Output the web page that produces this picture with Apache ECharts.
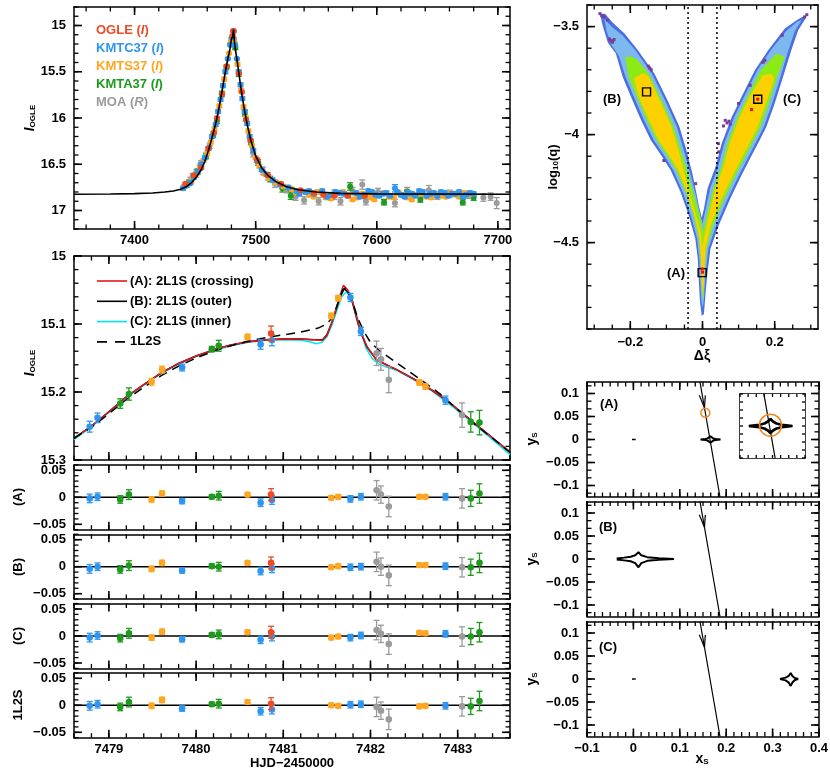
<!DOCTYPE html>
<html>
<head>
<meta charset="utf-8">
<script src="https://cdn.jsdelivr.net/npm/echarts@6/dist/echarts.min.js"></script>
<style>
html, body { margin: 0; padding: 0; background: #fff; }
#chart { width: 830px; height: 772px; }
</style>
</head>
<body>
<div id="chart"></div>
<script>
// datasets
const dsNames = ['MOA', 'KMTA', 'KMTS', 'KMTC', 'OGLE'];
const dsColors = { OGLE: '#EE4B24', KMTC: '#2F96F0', KMTS: '#FFA620', KMTA: '#1E9A1E', MOA: '#9B9B9B' };

// top panel: [HJD, I, err]
const topOGLE = [[7442,16.71,0.01],[7449,16.62,0.01],[7455,16.54,0.01],[7461,16.33,0.01],[7465.5,16.16,0.01],[7468,16.0,0.01],[7472.3,15.74,0.01],[7476,15.44,0.01],[7480.9,15.11,0.01],[7481.6,15.06,0.01],[7486.2,15.52,0.01],[7488.6,15.72,0.01],[7492,16.02,0.01],[7495.7,16.24,0.01],[7501.3,16.45,0.01],[7510,16.62,0.01],[7521,16.71,0.01],[7537,16.78,0.01],[7548,16.81,0.01],[7556,16.83,0.01],[7565,16.84,0.01],[7576,16.84,0.01],[7590,16.84,0.01]];
const topKMTC = [[7440,16.76,0.02],[7443,16.73,0.02],[7446,16.70,0.02],[7449,16.64,0.02],[7452,16.58,0.02],[7455,16.50,0.02],[7458,16.43,0.02],[7461,16.33,0.02],[7464,16.20,0.02],[7467,16.07,0.02],[7469,15.93,0.02],[7471,15.80,0.02],[7473,15.65,0.02],[7475,15.50,0.02],[7477,15.36,0.01],[7479,15.21,0.01],[7480.7,15.13,0.01],[7481.8,15.06,0.01],[7482.9,15.21,0.01],[7484.5,15.36,0.01],[7486,15.50,0.02],[7487.5,15.64,0.02],[7489,15.79,0.02],[7491,15.93,0.02],[7493,16.06,0.02],[7495,16.20,0.02],[7498,16.35,0.02],[7501,16.46,0.02],[7505,16.56,0.02],[7509,16.61,0.02],[7514,16.67,0.02],[7520,16.72,0.02],[7527,16.75,0.02],[7534,16.79,0.02],[7536,16.82,0.02],[7541,16.80,0.02],[7544,16.79,0.02],[7548,16.82,0.02],[7555,16.79,0.02],[7559,16.85,0.02],[7562,16.83,0.02],[7566,16.80,0.02],[7569,16.81,0.02],[7573,16.82,0.02],[7576,16.84,0.02],[7583,16.81,0.02],[7586,16.85,0.02],[7590,16.83,0.02],[7593,16.79,0.02],[7596,16.80,0.02],[7599,16.83,0.02],[7602,16.84,0.02],[7605,16.82,0.02],[7608,16.81,0.02],[7611,16.84,0.02],[7615,16.76,0.04],[7617,16.80,0.02],[7620,16.83,0.02],[7623,16.85,0.02],[7626,16.81,0.02],[7629,16.82,0.02],[7632,16.84,0.02],[7635,16.79,0.02],[7638,16.80,0.02],[7641,16.84,0.02],[7644,16.82,0.02],[7647,16.81,0.02],[7650,16.84,0.02],[7653,16.80,0.02],[7656,16.81,0.02],[7659,16.84,0.02],[7662,16.82,0.02],[7665,16.82,0.02],[7668,16.80,0.02],[7671,16.85,0.02],[7674,16.83,0.02],[7677,16.81,0.02],[7680,16.82,0.02]];
const topKMTS = [[7441,16.74,0.02],[7444,16.71,0.02],[7447,16.68,0.02],[7451,16.60,0.02],[7454,16.52,0.02],[7457,16.46,0.02],[7460,16.38,0.02],[7463,16.26,0.02],[7466,16.12,0.02],[7470,15.87,0.02],[7474,15.58,0.02],[7478,15.30,0.01],[7479.6,15.17,0.01],[7481.6,15.06,0.01],[7482.6,15.19,0.01],[7485,15.42,0.02],[7488,15.70,0.02],[7490,15.88,0.02],[7492,16.00,0.02],[7494,16.14,0.02],[7497,16.30,0.02],[7500,16.43,0.02],[7503,16.52,0.02],[7507,16.60,0.02],[7511,16.65,0.02],[7517,16.70,0.02],[7523,16.74,0.02],[7530,16.77,0.02],[7534,16.81,0.02],[7537,16.79,0.02],[7544,16.83,0.02],[7548,16.85,0.02],[7551,16.80,0.02],[7555,16.81,0.02],[7558,16.86,0.02],[7562,16.87,0.02],[7565,16.82,0.02],[7572,16.80,0.02],[7576,16.83,0.02],[7580,16.88,0.02],[7584,16.86,0.02],[7588,16.82,0.02],[7591,16.84,0.02],[7595,16.86,0.02],[7598,16.88,0.02],[7602,16.83,0.02],[7606,16.81,0.02],[7610,16.85,0.02],[7614,16.86,0.02],[7618,16.81,0.02],[7621,16.83,0.02],[7625,16.86,0.02],[7629,16.88,0.02],[7633,16.83,0.02],[7637,16.82,0.02],[7641,16.85,0.02],[7645,16.86,0.02],[7649,16.82,0.02],[7653,16.84,0.02],[7657,16.85,0.02],[7661,16.81,0.02],[7665,16.83,0.02],[7668,16.85,0.02],[7672,16.81,0.02],[7676,16.83,0.02]];
const topKMTA = [[7445,16.70,0.03],[7452,16.58,0.03],[7459,16.41,0.03],[7465,16.18,0.03],[7468,16.03,0.03],[7472,15.74,0.03],[7476,15.45,0.02],[7479.2,15.20,0.01],[7480.2,15.14,0.01],[7483.2,15.24,0.02],[7486,15.52,0.03],[7491,15.95,0.03],[7496,16.26,0.03],[7502,16.48,0.03],[7512,16.66,0.03],[7522,16.76,0.04],[7529,16.84,0.04],[7545,16.82,0.03],[7562,16.85,0.03],[7578,16.74,0.04],[7590,16.84,0.03],[7606,16.91,0.03],[7625,16.81,0.03],[7636,16.88,0.03],[7650,16.83,0.03],[7671,16.91,0.03],[7680,16.86,0.03]];
const topMOA = [[7446,16.68,0.04],[7448,16.63,0.03],[7451,16.60,0.04],[7455,16.50,0.04],[7462,16.30,0.03],[7482.1,15.15,0.02],[7498,16.38,0.04],[7506,16.57,0.04],[7510,16.63,0.04],[7516,16.71,0.04],[7526,16.77,0.04],[7533,16.85,0.04],[7540,16.89,0.04],[7552,16.90,0.04],[7565,16.83,0.05],[7570,16.90,0.04],[7580,16.79,0.04],[7588,16.72,0.05],[7591,16.90,0.04],[7601,16.80,0.04],[7615,16.92,0.04],[7625,16.79,0.04],[7643,16.78,0.05],[7650,16.84,0.04],[7660,16.82,0.04],[7676,16.83,0.04],[7688,16.86,0.04],[7694,16.85,0.04],[7699,16.92,0.06]];
const topData = { OGLE: topOGLE, KMTC: topKMTC, KMTS: topKMTS, KMTA: topKMTA, MOA: topMOA };

const modelTop = [[7350,16.825],[7380,16.822],[7400,16.818],[7415,16.81],[7425,16.8],[7432,16.79],[7438,16.77],[7443,16.74],[7447,16.7],[7451,16.64],[7455,16.56],[7458,16.47],[7461,16.35],[7464,16.21],[7467,16.06],[7469,15.94],[7471,15.8],[7473,15.65],[7475,15.5],[7477,15.36],[7478.6,15.268],[7480,15.146],[7481,15.121],[7481.7,15.045],[7482.5,15.18],[7483.6,15.288],[7485,15.41],[7487,15.6],[7489,15.78],[7491,15.93],[7493,16.07],[7496,16.24],[7500,16.41],[7505,16.54],[7510,16.62],[7517,16.69],[7525,16.74],[7535,16.775],[7550,16.8],[7570,16.815],[7600,16.82],[7710,16.825]];

// zoomed panel + residuals
const midTime = [7478.78,7478.87,7479.13,7479.23,7479.49,7479.61,7479.84,7480.18,7480.26,7480.59,7480.74,7480.86,7480.87,7481.55,7481.63,7481.77,7481.89,7482.07,7482.12,7482.21,7482.56,7482.63,7482.86,7483.05,7483.15,7483.25];
const midSet = ['KMTC','KMTC','KMTA','KMTA','KMTS','KMTS','KMTC','KMTA','KMTA','KMTS','KMTC','OGLE','KMTC','KMTS','KMTS','KMTC','KMTC','MOA','MOA','MOA','KMTS','KMTS','KMTC','MOA','KMTA','KMTA'];
const midMag = [15.251,15.238,15.217,15.203,15.185,15.167,15.164,15.137,15.132,15.119,15.130,15.114,15.124,15.088,15.062,15.061,15.111,15.143,15.152,15.182,15.186,15.192,15.212,15.234,15.244,15.245];
const midErr = [0.008,0.007,0.007,0.009,0.005,0.005,0.005,0.004,0.008,0.004,0.007,0.011,0.008,0.004,0.004,0.006,0.006,0.018,0.016,0.019,0.004,0.004,0.006,0.018,0.015,0.018];
const resA = [-0.002,0.001,-0.004,0.005,-0.004,0.007,-0.007,0.001,0.003,0.005,-0.010,0.005,-0.005,-0.001,0.001,-0.003,0.001,0.013,0.005,-0.017,0.001,0.001,0.001,-0.002,-0.002,0.007];
const resB = [-0.004,0.000,-0.005,0.002,-0.004,0.007,-0.007,0.001,0.000,0.007,-0.008,0.007,-0.003,-0.001,0.001,-0.001,0.000,0.009,0.000,-0.016,0.003,0.003,0.001,-0.001,-0.001,0.007];
const resC = [-0.003,0.001,-0.004,0.005,-0.003,0.008,-0.006,0.002,0.003,0.007,-0.007,0.007,-0.001,-0.003,-0.001,-0.003,0.001,0.011,0.004,-0.015,0.006,0.005,0.004,-0.001,-0.001,0.007];
const res1L2S = [-0.001,0.002,-0.003,0.006,-0.001,0.010,-0.006,0.002,0.003,0.006,-0.011,0.003,-0.008,0.000,-0.001,0.001,0.002,-0.003,-0.010,-0.026,-0.002,-0.001,-0.001,-0.002,-0.002,0.008];

const modelA = [[7478.6,15.268],[7478.8,15.25],[7479,15.229],[7479.2,15.207],[7479.4,15.189],[7479.6,15.172],[7479.8,15.158],[7480,15.147],[7480.2,15.138],[7480.4,15.131],[7480.6,15.126],[7480.8,15.123],[7481,15.122],[7481.2,15.122],[7481.35,15.123],[7481.45,15.124],[7481.5,15.117],[7481.55,15.1],[7481.6,15.08],[7481.65,15.058],[7481.69,15.043],[7481.74,15.05],[7481.79,15.065],[7481.88,15.109],[7481.96,15.133],[7482.07,15.153],[7482.2,15.161],[7482.3,15.167],[7482.5,15.181],[7482.7,15.197],[7482.9,15.215],[7483.1,15.236],[7483.3,15.257],[7483.5,15.278],[7483.6,15.288]];
const modelB = [[7478.6,15.268],[7478.8,15.25],[7479,15.229],[7479.2,15.207],[7479.4,15.189],[7479.6,15.172],[7479.8,15.158],[7480,15.147],[7480.2,15.138],[7480.4,15.131],[7480.6,15.126],[7480.8,15.123],[7481,15.122],[7481.2,15.122],[7481.35,15.123],[7481.45,15.123],[7481.5,15.116],[7481.55,15.1],[7481.6,15.081],[7481.65,15.061],[7481.7,15.048],[7481.74,15.053],[7481.79,15.067],[7481.88,15.11],[7481.96,15.134],[7482.07,15.153],[7482.2,15.161],[7482.3,15.167],[7482.5,15.181],[7482.7,15.197],[7482.9,15.215],[7483.1,15.236],[7483.3,15.257],[7483.5,15.278],[7483.6,15.288]];
const modelC = [[7478.6,15.27],[7478.8,15.251],[7479,15.23],[7479.2,15.208],[7479.4,15.19],[7479.6,15.173],[7479.8,15.159],[7480,15.148],[7480.2,15.139],[7480.4,15.132],[7480.6,15.127],[7480.8,15.124],[7481,15.123],[7481.2,15.124],[7481.3,15.126],[7481.38,15.129],[7481.44,15.127],[7481.5,15.119],[7481.56,15.101],[7481.62,15.078],[7481.67,15.06],[7481.72,15.053],[7481.77,15.059],[7481.82,15.076],[7481.88,15.106],[7481.95,15.136],[7482.02,15.151],[7482.1,15.159],[7482.2,15.164],[7482.3,15.168],[7482.5,15.182],[7482.7,15.198],[7482.9,15.217],[7483.1,15.238],[7483.3,15.259],[7483.5,15.281],[7483.6,15.292]];
const model1L2S = [[7478.6,15.268],[7478.8,15.252],[7479,15.232],[7479.2,15.211],[7479.4,15.193],[7479.6,15.176],[7479.8,15.162],[7480,15.15],[7480.2,15.14],[7480.4,15.132],[7480.6,15.125],[7480.8,15.12],[7481,15.116],[7481.2,15.112],[7481.4,15.106],[7481.5,15.1],[7481.57,15.089],[7481.63,15.068],[7481.68,15.05],[7481.72,15.046],[7481.78,15.062],[7481.85,15.09],[7481.92,15.11],[7482,15.127],[7482.1,15.139],[7482.2,15.148],[7482.4,15.166],[7482.6,15.184],[7482.8,15.203],[7483,15.226],[7483.2,15.248],[7483.4,15.268],[7483.6,15.289]];

// (dxi, log q) map: contour envelopes
const levBlue = [[-0.284,-3.44],[-0.276,-3.5],[-0.262,-3.575],[-0.24,-3.625],[-0.221,-3.733],[-0.198,-3.826],[-0.17,-3.934],[-0.143,-4.026],[-0.115,-4.095],[-0.088,-4.165],[-0.061,-4.265],[-0.038,-4.374],[-0.02,-4.481],[-0.013,-4.574],[-0.01,-4.682],[-0.007,-4.775],[-0.002,-4.84],[0.004,-4.83],[0.008,-4.744],[0.013,-4.651],[0.022,-4.528],[0.045,-4.42],[0.077,-4.296],[0.108,-4.188],[0.135,-4.1],[0.16,-4.02],[0.177,-3.964],[0.2,-3.856],[0.223,-3.733],[0.246,-3.61],[0.265,-3.517],[0.288,-3.455],[0.282,-3.45],[0.262,-3.47],[0.228,-3.509],[0.182,-3.61],[0.145,-3.702],[0.108,-3.826],[0.081,-3.918],[0.053,-4.042],[0.036,-4.15],[0.014,-4.25],[0.004,-4.343],[-0.002,-4.385],[-0.01,-4.33],[-0.017,-4.27],[-0.028,-4.18],[-0.045,-4.07],[-0.064,-3.964],[-0.097,-3.841],[-0.133,-3.718],[-0.179,-3.61],[-0.216,-3.532],[-0.25,-3.48],[-0.27,-3.44]];
const levLight = [[-0.272,-3.465],[-0.266,-3.52],[-0.252,-3.585],[-0.232,-3.635],[-0.213,-3.733],[-0.19,-3.826],[-0.162,-3.934],[-0.135,-4.026],[-0.107,-4.095],[-0.081,-4.165],[-0.055,-4.265],[-0.032,-4.374],[-0.015,-4.481],[-0.009,-4.574],[-0.006,-4.682],[-0.003,-4.775],[0.001,-4.8],[0.004,-4.76],[0.008,-4.651],[0.016,-4.528],[0.038,-4.42],[0.07,-4.296],[0.101,-4.188],[0.128,-4.1],[0.153,-4.02],[0.17,-3.964],[0.193,-3.856],[0.216,-3.733],[0.238,-3.61],[0.256,-3.52],[0.275,-3.47],[0.262,-3.478],[0.232,-3.52],[0.189,-3.61],[0.152,-3.702],[0.115,-3.826],[0.088,-3.918],[0.06,-4.042],[0.043,-4.15],[0.021,-4.25],[0.009,-4.343],[0,-4.41],[-0.008,-4.36],[-0.02,-4.27],[-0.034,-4.18],[-0.052,-4.07],[-0.071,-3.964],[-0.104,-3.841],[-0.14,-3.718],[-0.186,-3.61],[-0.222,-3.54],[-0.252,-3.5]];
const levGreen = [[-0.214,-3.64],[-0.205,-3.733],[-0.182,-3.826],[-0.154,-3.934],[-0.127,-4.026],[-0.099,-4.095],[-0.073,-4.165],[-0.047,-4.265],[-0.025,-4.374],[-0.01,-4.481],[-0.005,-4.574],[-0.003,-4.682],[0,-4.77],[0.003,-4.74],[0.005,-4.651],[0.011,-4.528],[0.03,-4.42],[0.061,-4.296],[0.092,-4.188],[0.119,-4.1],[0.144,-4.02],[0.161,-3.964],[0.184,-3.856],[0.207,-3.733],[0.228,-3.64],[0.205,-3.625],[0.161,-3.702],[0.124,-3.826],[0.097,-3.918],[0.069,-4.042],[0.052,-4.15],[0.03,-4.25],[0.014,-4.36],[0.002,-4.45],[-0.006,-4.38],[-0.025,-4.27],[-0.04,-4.18],[-0.06,-4.07],[-0.08,-3.964],[-0.113,-3.841],[-0.149,-3.718],[-0.18,-3.655],[-0.195,-3.64]];
const levYellow = [[-0.19,-3.74],[-0.176,-3.826],[-0.148,-3.934],[-0.121,-4.026],[-0.093,-4.095],[-0.067,-4.165],[-0.043,-4.265],[-0.022,-4.374],[-0.008,-4.481],[-0.004,-4.574],[-0.002,-4.682],[0,-4.74],[0.003,-4.7],[0.005,-4.651],[0.008,-4.528],[0.022,-4.42],[0.053,-4.296],[0.084,-4.188],[0.111,-4.1],[0.136,-4.02],[0.153,-3.964],[0.176,-3.856],[0.199,-3.74],[0.19,-3.72],[0.167,-3.725],[0.13,-3.826],[0.103,-3.918],[0.075,-4.042],[0.058,-4.15],[0.036,-4.25],[0.02,-4.36],[0.004,-4.48],[0,-4.52],[-0.004,-4.46],[-0.02,-4.36],[-0.036,-4.27],[-0.05,-4.18],[-0.067,-4.07],[-0.086,-3.964],[-0.119,-3.841],[-0.15,-3.73],[-0.165,-3.715]];
const outliers = [[-0.284,-3.44],[-0.279,-3.45],[-0.272,-3.455],[-0.263,-3.47],[-0.258,-3.557],[-0.253,-3.565],[-0.249,-3.572],[-0.245,-3.56],[-0.15,-3.683],[-0.146,-3.692],[-0.142,-3.7],[-0.107,-4.12],[-0.019,-4.227],[0.283,-3.455],[0.289,-3.445],[0.221,-3.54],[0.173,-3.656],[0.168,-3.665],[0.132,-3.772],[0.1,-3.856],[0.063,-3.934],[0.068,-3.946],[0.073,-3.938],[0.077,-3.952],[0.058,-3.96],[0.044,-4.042],[0.045,-4.08]];
const bestFits = [[-0.155,-3.802],[0.153,-3.836],[-0.001,-4.639]];
const redPoints = [[-0.001,-4.622],[0,-4.637],[0.153,-3.836],[0.136,-3.884]];
const xiCuts = [-0.04, 0.04];

// source-plane geometry
const causticA = [[0.1446,0],[0.155,0.0012],[0.16,0.0025],[0.1635,0.0045],[0.166,0.007],[0.1685,0.0045],[0.172,0.0025],[0.177,0.0012],[0.1877,0],[0.177,-0.0012],[0.172,-0.0025],[0.1685,-0.0045],[0.166,-0.007],[0.1635,-0.0045],[0.16,-0.0025],[0.155,-0.0012],[0.1446,0]];
const causticB = [[-0.036,0.001],[-0.02,0.003],[-0.006,0.005],[0.004,0.008],[0.011,0.015],[0.017,0.008],[0.03,0.004],[0.055,0.0015],[0.0875,0],[0.055,-0.0015],[0.03,-0.004],[0.017,-0.009],[0.011,-0.018],[0.004,-0.009],[-0.006,-0.005],[-0.02,-0.003],[-0.036,-0.001]];
const causticC = [[0.316,0],[0.328,0.003],[0.335,0.007],[0.339,0.013],[0.343,0.006],[0.348,0.002],[0.355,0],[0.348,-0.002],[0.343,-0.007],[0.339,-0.015],[0.335,-0.008],[0.328,-0.003],[0.316,0]];
const centralDash = [[-0.003,0],[0.005,0]];
const trajectory = [[0.1435,0.125],[0.1866,-0.125]];
const arrowHead = [[0.142,0.096],[0.1532,0.069],[0.155,0.096]];
const sourceA = [[0.155,0.058]];
const sourceInset = [[0.166,0.0008]];

// tick labels
const topXTicks = [7400,7500,7600,7700];
const topYTicks = [15,15.5,16,16.5,17];
const midXTicks = [7479,7480,7481,7482,7483];
const midYTicks = [15,15.1,15.2,15.3];
const resYTicks = [-0.05,0,0.05];
const qXTicks = [-0.2,0,0.2];
const qYTicks = [-4.5,-4,-3.5];
const srcXTicks = [-0.1,0,0.1,0.2,0.3,0.4];
const srcYTicks = [-0.1,-0.05,0,0.05,0.1];

function steps(a, b, d) {
    const n = Math.round((b - a) / d);
    const out = [];
    for (let i = 0; i <= n; i++) out.push(+(a + i * d).toFixed(6));
    return out;
}

const FONT = '"Liberation Sans", Arial, sans-serif';
const fmt = v => (v < 0 ? '\u2212' : '') + String(Math.abs(v));

const grids = [], xAxes = [], yAxes = [], tickSpecs = [];

function addSide(list, g, r, pos, showLabel) {
    list.push({
        type: 'value', gridIndex: g, position: pos, min: r.min, max: r.max, inverse: !!r.inverse,
        splitLine: { show: false }, silent: true,
        axisLine: { show: true, onZero: false, lineStyle: { color: '#000', width: 1.5 } },
        axisTick: { show: false },
        axisLabel: { show: !!showLabel, customValues: r.major, margin: r.margin || 8, formatter: fmt, color: '#000', fontFamily: FONT, fontSize: 13, fontWeight: 'bold' }
    });
}

function panel(box, xr, yr, xLab, yLab, extra) {
    const g = grids.length;
    grids.push(Object.assign({ left: box[0], top: box[1], width: box[2], height: box[3], containLabel: false, outerBoundsMode: 'none' }, extra || {}));
    addSide(xAxes, g, xr, 'bottom', xLab);
    addSide(xAxes, g, xr, 'top', false);
    addSide(yAxes, g, yr, 'left', yLab);
    addSide(yAxes, g, yr, 'right', false);
    tickSpecs.push({ box, xr, yr });
    return g;
}

const midX = { min: 7478.6, max: 7483.6, major: midXTicks, minor: steps(7478.6, 7483.6, 0.2), margin: 5 };
const resY = { min: -0.06, max: 0.06, major: resYTicks, minor: steps(-0.06, 0.06, 0.01) };
const srcX = { min: -0.1, max: 0.4, major: srcXTicks, minor: steps(-0.1, 0.4, 0.1 / 6), margin: 5 };
const srcY = { min: -0.125, max: 0.125, major: srcYTicks, minor: steps(-7 / 60, 7 / 60, 1 / 60) };

const gTop = panel([74, 7, 436, 222],
    { min: 7350, max: 7710, major: topXTicks, minor: steps(7360, 7700, 20), tl: 8, margin: 5 },
    { min: 14.8, max: 17.2, major: topYTicks, minor: steps(14.8, 17.2, 0.1), inverse: true, tl: 8 }, true, true);
const gMid = panel([74, 256, 436, 204], midX,
    { min: 15, max: 15.3, major: midYTicks, minor: steps(15, 15.3, 0.02), inverse: true }, false, true);
const gResA = panel([74, 464.9, 436, 64.8], midX, resY, false, true);
const gResB = panel([74, 534.3, 436, 64.8], midX, resY, false, true);
const gResC = panel([74, 603.6, 436, 64.8], midX, resY, false, true);
const gRes1 = panel([74, 672.9, 436, 64.8], midX, resY, true, true);
const gQ = panel([587, 5, 231, 324],
    { min: -0.32, max: 0.32, major: qXTicks, minor: steps(-0.3, 0.3, 0.05), margin: 7 },
    { min: -4.9, max: -3.4, major: qYTicks, minor: steps(-4.9, -3.4, 0.1) }, true, true);
const gSA = panel([587, 382, 232, 115], srcX, srcY, false, true);
const gSB = panel([587, 501.5, 232, 115], srcX, srcY, false, true);
const gSC = panel([587, 621.5, 232, 115], srcX, srcY, true, true);
const gIn = panel([740, 394, 65, 64],
    { min: 0.136, max: 0.2, major: [], minor: steps(0.136, 0.2, 0.008), ml: 3 },
    { min: -0.032, max: 0.032, major: [], minor: steps(-0.032, 0.032, 0.008), ml: 3 }, false, false,
    { show: true, backgroundColor: '#fff', borderWidth: 0, z: 10 });

const AX = g => ({ xAxisIndex: 2 * g, yAxisIndex: 2 * g });
const series = [];

function lineS(g, data, lineStyle, z) {
    return Object.assign({ type: 'line', data, symbol: 'none', showSymbol: false, silent: true, clip: true, z: z || 4, lineStyle }, AX(g));
}
function errS(g, data, color, r, z) {
    return Object.assign({
        type: 'custom', data, silent: true, z: z || 5,
        renderItem(params, api) {
            const x = api.value(0), y = api.value(1), e = api.value(2);
            const c = api.coord([x, y]), a = api.coord([x, y - e]), b = api.coord([x, y + e]);
            const st = { stroke: color, lineWidth: 1.3 };
            return { type: 'group', children: [
                { type: 'line', shape: { x1: c[0], y1: a[1], x2: c[0], y2: b[1] }, style: st },
                { type: 'line', shape: { x1: c[0] - 3, y1: a[1], x2: c[0] + 3, y2: a[1] }, style: st },
                { type: 'line', shape: { x1: c[0] - 3, y1: b[1], x2: c[0] + 3, y2: b[1] }, style: st },
                { type: 'circle', shape: { cx: c[0], cy: c[1], r }, style: { fill: color } }
            ] };
        }
    }, AX(g));
}
function polyS(g, pts, fill, z) {
    return Object.assign({
        type: 'custom', data: [pts[0]], silent: true, z,
        renderItem(params, api) {
            return { type: 'polygon', shape: { points: pts.map(p => api.coord(p)) }, style: { fill } };
        }
    }, AX(g));
}
function markS(g, data, symbol, size, fill, stroke, bw, z) {
    return Object.assign({ type: 'scatter', data, symbol, symbolSize: size, silent: true, z,
        itemStyle: { color: fill, borderColor: stroke, borderWidth: bw, opacity: 1 } }, AX(g));
}
function pick(set, vals) {
    const out = [];
    midSet.forEach((s, i) => { if (s === set) out.push([midTime[i], vals[i], midErr[i]]); });
    return out;
}

// top light curve
dsNames.forEach(n => series.push(errS(gTop, topData[n], dsColors[n], 3)));
series.push(lineS(gTop, modelTop, { color: '#000', width: 1.6 }, 8));

// zoomed light curve
series.push(lineS(gMid, modelC, { color: '#00E8F0', width: 1.5 }, 3));
series.push(lineS(gMid, modelB, { color: '#000', width: 1.5 }, 3));
series.push(lineS(gMid, modelA, { color: '#E8141B', width: 1.5 }, 3));
series.push(lineS(gMid, model1L2S, { color: '#000', width: 1.5, type: [9, 6] }, 3));
dsNames.forEach(n => series.push(errS(gMid, pick(n, midMag), dsColors[n], 3.3)));

// residual panels
[[gResA, resA], [gResB, resB], [gResC, resC], [gRes1, res1L2S]].forEach(([g, res]) => {
    series.push(lineS(g, [[7478.6, 0], [7483.6, 0]], { color: '#000', width: 1.5 }, 3));
    dsNames.forEach(n => series.push(errS(g, pick(n, res), dsColors[n], 3.3)));
});

// log q vs dxi map
series.push(polyS(gQ, levBlue, '#4A6FE3', 1));
series.push(polyS(gQ, levLight, '#7DB9EE', 2));
series.push(polyS(gQ, levGreen, '#8CEB14', 3));
series.push(polyS(gQ, levYellow, '#FFD000', 4));
series.push(markS(gQ, outliers, 'rect', 3, '#7A3B95', '#7A3B95', 0, 5));
xiCuts.forEach(v => series.push(lineS(gQ, [[v, -4.9], [v, -3.4]], { color: '#000', width: 1.5, type: [2, 3] }, 6)));
series.push(markS(gQ, bestFits, 'rect', 8, 'rgba(0,0,0,0)', '#000', 1.4, 7));
series.push(markS(gQ, redPoints, 'rect', 3, '#F01010', '#F01010', 0, 8));

// source planes
[[gSA, causticA], [gSB, causticB], [gSC, causticC]].forEach(([g, c]) => {
    series.push(lineS(g, c, { color: '#000', width: 2 }, 4));
    series.push(lineS(g, trajectory, { color: '#000', width: 1.2 }, 4));
    series.push(lineS(g, arrowHead, { color: '#000', width: 1.2 }, 4));
});
series.push(lineS(gSA, centralDash, { color: '#000', width: 1.6 }, 4));
series.push(lineS(gSC, centralDash, { color: '#000', width: 1.6 }, 4));
series.push(markS(gSA, sourceA, 'circle', 9, 'rgba(0,0,0,0)', '#F08A24', 1.5, 5));
series.push(lineS(gIn, causticA, { color: '#000', width: 2.6 }, 12));
series.push(lineS(gIn, trajectory, { color: '#000', width: 1.2 }, 12));
series.push(markS(gIn, sourceInset, 'circle', 22, 'rgba(0,0,0,0)', '#F08A24', 1.6, 13));

// text
const B13 = { fontFamily: FONT, fontWeight: 'bold', fontSize: 13 };
function txt(x, y, text, extra, rot) {
    return { type: 'text', x, y, rotation: rot || 0, z: 100, silent: true,
        style: Object.assign({ text, fill: '#000', align: 'center', verticalAlign: 'middle' }, B13, extra || {}) };
}
function subLabel(x, y, main, sub, rot, italic) {
    return txt(x, y, '{m|' + main + '}{s|' + sub + '}', { rich: {
        m: { fontFamily: FONT, fontWeight: 'bold', fontStyle: italic ? 'italic' : 'normal', fontSize: 14, fill: '#000' },
        s: { fontFamily: FONT, fontWeight: 'bold', fontSize: 8, fill: '#000', verticalAlign: 'bottom', padding: [6, 0, 0, 0] }
    } }, rot);
}
const graphics = [];
const legendTop = [['OGLE', 'OGLE', 'I'], ['KMTC37', 'KMTC', 'I'], ['KMTS37', 'KMTS', 'I'], ['KMTA37', 'KMTA', 'I'], ['MOA', 'MOA', 'R']];
legendTop.forEach(([label, key, band], i) => {
    const col = dsColors[key];
    graphics.push(txt(96, 30 + i * 18, '{n|' + label + ' (}{i|' + band + '}{n|)}', { align: 'left', rich: {
        n: Object.assign({ fill: col }, B13), i: Object.assign({ fill: col, fontStyle: 'italic' }, B13)
    } }));
});
const legendMid = [['(A): 2L1S (crossing)', '#E8141B', null], ['(B): 2L1S (outer)', '#000', null], ['(C): 2L1S (inner)', '#00E8F0', null], ['1L2S', '#000', [10, 8]]];
legendMid.forEach(([label, col, dash], i) => {
    const y = 281 + i * 20.3;
    graphics.push({ type: 'line', z: 100, silent: true, shape: { x1: 97, y1: y, x2: 127, y2: y }, style: { stroke: col, lineWidth: 1.6, lineDash: dash } });
    graphics.push(txt(130, y, label, { align: 'left' }));
});
graphics.push(subLabel(30, 118, 'I', 'OGLE', Math.PI / 2, true));
graphics.push(subLabel(30, 363, 'I', 'OGLE', Math.PI / 2, true));
[['(A)', 497], ['(B)', 567], ['(C)', 636], ['1L2S', 705]].forEach(([t, y]) => graphics.push(txt(18, y, t, null, Math.PI / 2)));
graphics.push(txt(292, 763, 'HJD\u22122450000'));
graphics.push(txt(553, 167, '{m|log}{s|10}{m|(q)}', { rich: {
    m: { fontFamily: FONT, fontWeight: 'bold', fontSize: 13, fill: '#000' },
    s: { fontFamily: FONT, fontWeight: 'bold', fontSize: 8, fill: '#000', verticalAlign: 'bottom', padding: [6, 0, 0, 0] }
} }, Math.PI / 2));
graphics.push(txt(702, 356, '\u0394\u03BE', { fontSize: 14 }));
[439, 559, 679].forEach(y => graphics.push(subLabel(532, y, 'y', 'S', Math.PI / 2, false)));
graphics.push(subLabel(702, 759, 'x', 'S', 0, false));
graphics.push(txt(612, 99, '(B)'));
graphics.push(txt(792, 99, '(C)'));
graphics.push(txt(676, 273, '(A)'));
graphics.push(txt(609, 404, '(A)'));
graphics.push(txt(608, 527, '(B)'));
graphics.push(txt(608, 647, '(C)'));

// inward tick marks on every panel frame
const tickEls = [];
try {
    tickSpecs.forEach(({ box, xr, yr }) => {
        const [L, T, W, H] = box;
        const R = L + W, Bt = T + H;
        const fx = v => L + (v - xr.min) / (xr.max - xr.min) * W;
        const fy = v => yr.inverse ? T + (v - yr.min) / (yr.max - yr.min) * H : Bt - (v - yr.min) / (yr.max - yr.min) * H;
        const seg = (x1, y1, x2, y2, w) => tickEls.push({ type: 'line', z: 200, silent: true,
            shape: { x1, y1, x2, y2 }, style: { stroke: '#000', lineWidth: w } });
        const xt = (vals, len, w) => vals.forEach(v => { const p = fx(v); seg(p, Bt, p, Bt - len, w); seg(p, T, p, T + len, w); });
        const yt = (vals, len, w) => vals.forEach(v => { const p = fy(v); seg(L, p, L + len, p, w); seg(R, p, R - len, p, w); });
        xt(xr.minor, xr.ml || 4.5, 1.3); xt(xr.major, xr.tl || 8, 1.6);
        yt(yr.minor, yr.ml || 4.5, 1.3); yt(yr.major, yr.tl || 8, 1.6);
    });
} catch (e) { /* keep the chart even if tick building fails */ }

const myChart = echarts.init(document.getElementById('chart'), null, { renderer: 'canvas' });
myChart.setOption({
    animation: false,
    backgroundColor: '#fff',
    grid: grids,
    xAxis: xAxes,
    yAxis: yAxes,
    series: series,
    graphic: { elements: graphics.concat(tickEls) }
});
</script>
</body>
</html>
